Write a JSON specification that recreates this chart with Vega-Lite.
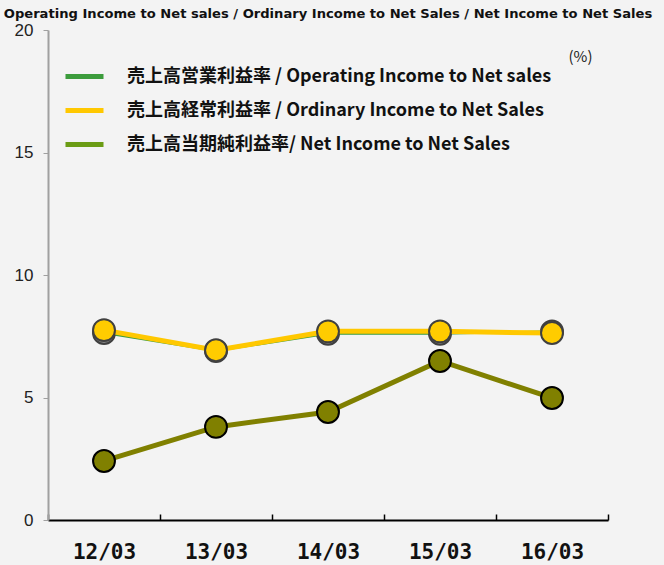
{
  "$schema": "https://vega.github.io/schema/vega-lite/v6.json",
  "width": 560,
  "height": 490,
  "autosize": {"type": "none"},
  "padding": {"left": 48, "top": 30, "right": 56, "bottom": 45},
  "background": "#f3f3f3",
  "title": {
    "text": "Operating Income to Net sales / Ordinary Income to Net Sales / Net Income to Net Sales",
    "font": "DejaVu Sans",
    "fontSize": 13.1,
    "fontWeight": "bold",
    "color": "#111111",
    "anchor": "middle",
    "offset": 0
  },
  "config": {
    "view": {"stroke": null},
    "legend": {
      "orient": "none",
      "legendX": 15,
      "legendY": 25,
      "padding": 0,
      "symbolType": "stroke",
      "symbolSize": 1444,
      "symbolStrokeWidth": 5,
      "labelFont": "Noto Sans CJK JP",
      "labelFontSize": 18,
      "labelFontWeight": "bold",
      "labelColor": "#111111",
      "labelOffset": 21,
      "labelLimit": 0,
      "rowPadding": 2,
      "title": null
    }
  },
  "data": {
    "values": [
      {"year": "12/03", "series": "売上高営業利益率 / Operating Income to Net sales", "value": 7.63},
      {"year": "13/03", "series": "売上高営業利益率 / Operating Income to Net sales", "value": 6.9},
      {"year": "14/03", "series": "売上高営業利益率 / Operating Income to Net sales", "value": 7.6},
      {"year": "15/03", "series": "売上高営業利益率 / Operating Income to Net sales", "value": 7.6},
      {"year": "16/03", "series": "売上高営業利益率 / Operating Income to Net sales", "value": 7.7},
      {"year": "12/03", "series": "売上高経常利益率 / Ordinary Income to Net Sales", "value": 7.75},
      {"year": "13/03", "series": "売上高経常利益率 / Ordinary Income to Net Sales", "value": 6.93},
      {"year": "14/03", "series": "売上高経常利益率 / Ordinary Income to Net Sales", "value": 7.7},
      {"year": "15/03", "series": "売上高経常利益率 / Ordinary Income to Net Sales", "value": 7.7},
      {"year": "16/03", "series": "売上高経常利益率 / Ordinary Income to Net Sales", "value": 7.63},
      {"year": "12/03", "series": "売上高当期純利益率/ Net Income to Net Sales", "value": 2.41},
      {"year": "13/03", "series": "売上高当期純利益率/ Net Income to Net Sales", "value": 3.8},
      {"year": "14/03", "series": "売上高当期純利益率/ Net Income to Net Sales", "value": 4.41},
      {"year": "15/03", "series": "売上高当期純利益率/ Net Income to Net Sales", "value": 6.49},
      {"year": "16/03", "series": "売上高当期純利益率/ Net Income to Net Sales", "value": 4.98}
    ]
  },
  "encoding": {
    "x": {
      "field": "year",
      "type": "nominal",
      "scale": {"type": "band", "paddingInner": 0, "paddingOuter": 0},
      "axis": {
        "title": null,
        "labelAngle": 0,
        "labelFont": "DejaVu Sans Mono",
        "labelFontSize": 21,
        "labelFontWeight": "bold",
        "labelColor": "#111111",
        "labelPadding": 27,
        "domainColor": "#000000",
        "domainWidth": 2,
        "tickColor": "#000000",
        "tickWidth": 1.5,
        "tickSize": -6,
        "tickBand": "extent",
        "grid": false
      }
    },
    "y": {
      "field": "value",
      "type": "quantitative",
      "scale": {"domain": [0, 20], "nice": false},
      "axis": {
        "title": "(%)",
        "titleAngle": 0,
        "titleX": 532,
        "titleY": 26,
        "titleAlign": "center",
        "titleBaseline": "middle",
        "titleFont": "Noto Sans CJK JP",
        "titleFontSize": 15,
        "titleFontWeight": "normal",
        "titleColor": "#222222",
        "values": [0, 5, 10, 15, 20],
        "labelFont": "Liberation Sans",
        "labelFontSize": 17,
        "labelColor": "#222222",
        "labelPadding": 10,
        "domainColor": "#a0a0a0",
        "domainWidth": 2,
        "tickColor": "#a0a0a0",
        "tickSize": 5,
        "grid": false
      }
    }
  },
  "layer": [
    {
      "mark": {"type": "line", "strokeWidth": 2},
      "encoding": {
        "color": {
          "field": "series",
          "type": "nominal",
          "sort": null,
          "scale": {
            "domain": [
              "売上高営業利益率 / Operating Income to Net sales",
              "売上高経常利益率 / Ordinary Income to Net Sales",
              "売上高当期純利益率/ Net Income to Net Sales"
            ],
            "range": ["#3c9c3c", "#ffc800", "#6b9c14"]
          }
        }
      }
    },
    {
      "transform": [{"filter": "indexof(datum.series, 'Operating') >= 0"}],
      "mark": {"type": "point", "shape": "circle", "filled": true, "size": 480, "color": "#888888", "stroke": "#404040", "strokeWidth": 2, "opacity": 1}
    },
    {
      "transform": [{"filter": "indexof(datum.series, 'Ordinary') >= 0"}],
      "mark": {"type": "line", "color": "#ffc800", "strokeWidth": 5}
    },
    {
      "transform": [{"filter": "indexof(datum.series, 'Ordinary') >= 0"}],
      "mark": {"type": "point", "shape": "circle", "filled": true, "size": 480, "color": "#ffcc00", "stroke": "#404040", "strokeWidth": 2, "opacity": 1}
    },
    {
      "transform": [{"filter": "indexof(datum.series, 'Net Income to Net Sales') >= 0 && indexof(datum.series, 'Ordinary') < 0"}],
      "mark": {"type": "line", "color": "#808000", "strokeWidth": 5}
    },
    {
      "transform": [{"filter": "indexof(datum.series, 'Net Income to Net Sales') >= 0 && indexof(datum.series, 'Ordinary') < 0"}],
      "mark": {"type": "point", "shape": "circle", "filled": true, "size": 480, "color": "#808000", "stroke": "#000000", "strokeWidth": 2, "opacity": 1}
    }
  ]
}
